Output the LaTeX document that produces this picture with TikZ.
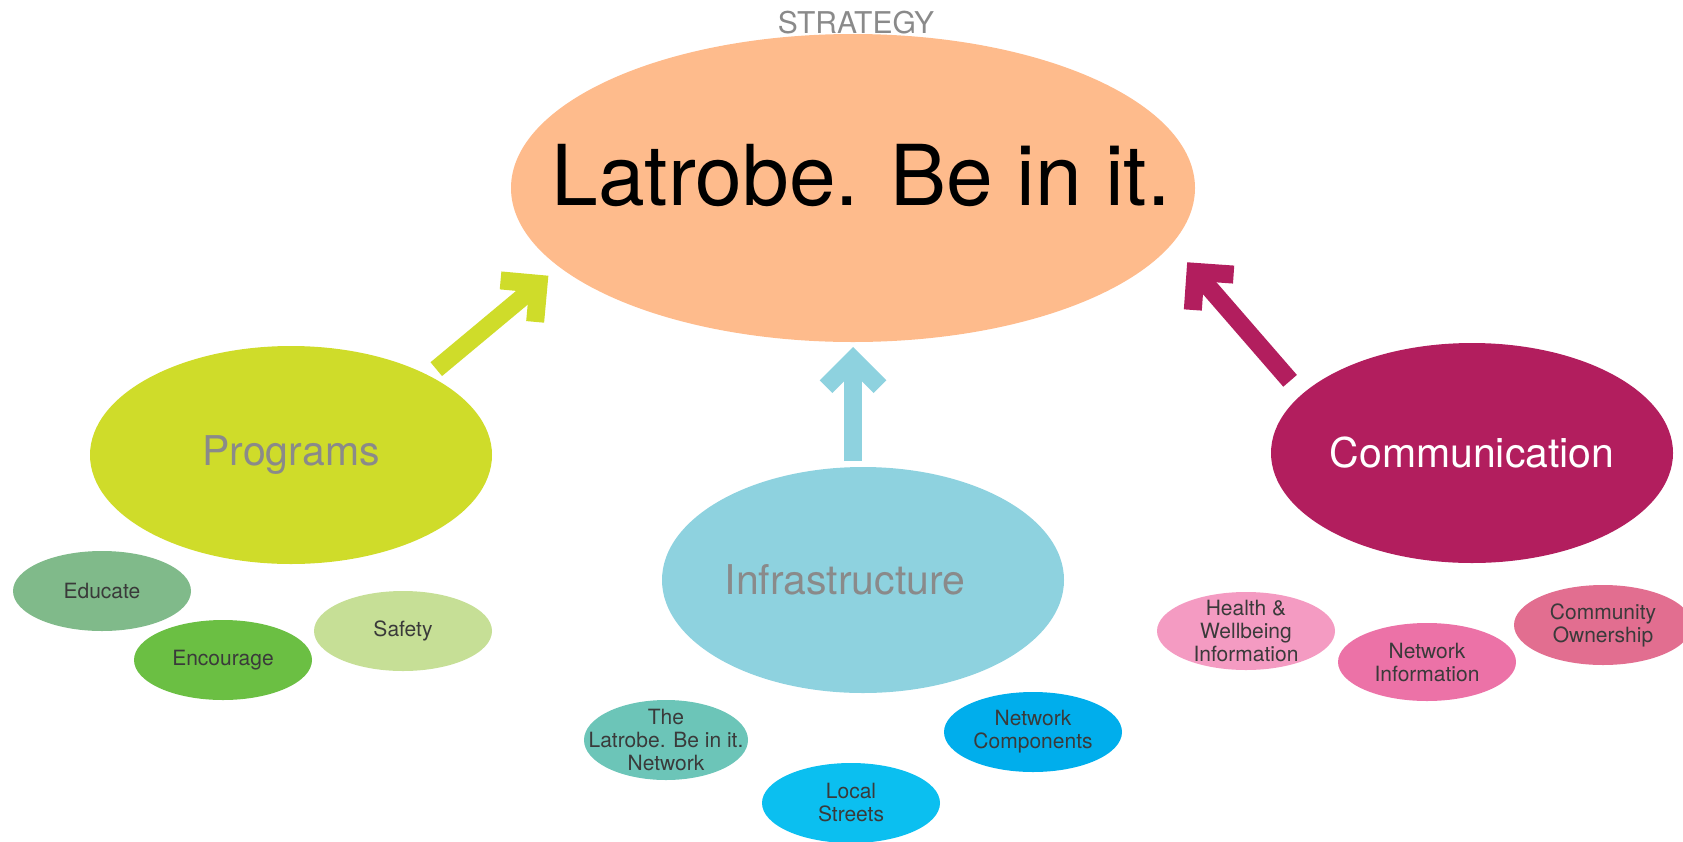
\documentclass[tikz,border=0pt]{standalone}
\usepackage{fontspec}
\setmainfont{TeX Gyre Heros}
\usetikzlibrary{shapes.geometric}
\usetikzlibrary{arrows.meta}

\definecolor{stratcol}{HTML}{FEBB8C}
\definecolor{progcol}{HTML}{CFDC2A}
\definecolor{infracol}{HTML}{8ED2DF}
\definecolor{commcol}{HTML}{B21E5E}
\definecolor{educol}{HTML}{80BA8A}
\definecolor{enccol}{HTML}{6BBF43}
\definecolor{safecol}{HTML}{C6DF96}
\definecolor{netcol}{HTML}{6CC5B8}
\definecolor{streetcol}{HTML}{0BBFF0}
\definecolor{compcol}{HTML}{00AEEC}
\definecolor{healthcol}{HTML}{F49BC2}
\definecolor{infocol}{HTML}{EC72A7}
\definecolor{owncol}{HTML}{E26E90}
\definecolor{softgray}{HTML}{8A8A8A}
\definecolor{darkgray}{HTML}{3A3A3A}

\tikzset{
	bubble/.style={ellipse, inner sep=0pt, outer sep=0pt},
	leaf/.style={bubble, minimum width=178, minimum height=80},
	bigtext/.style={font=\fontsize{84}{100}\selectfont, text=black},
	midtext/.style={font=\fontsize{41}{48}\selectfont, text=softgray},
	smalltext/.style={font=\fontsize{21}{23}\selectfont, text=darkgray, align=center},
	chevron/.style={line width=18pt, -{Straight Barb[length=27pt, width=54pt]}}
}

\begin{document}
\begin{tikzpicture}[x=1pt, y=-1pt]
	\useasboundingbox (0,0) rectangle (1683,841);

	% strategy
	\node[font=\fontsize{30}{36}\selectfont, text=softgray] (title) at (856,23) {STRATEGY};
	\node[bubble, fill=stratcol, minimum width=684, minimum height=308,
	label={[bigtext, xshift=8, yshift=12]center:Latrobe. Be in it.}] (strat) at (853,188) {};

	% the three streams
	\node[bubble, fill=progcol, minimum width=402, minimum height=218,
	label={[midtext]center:Programs}] (progs) at (291,455) {};
	\node[bubble, fill=infracol, minimum width=402, minimum height=226,
	label={[midtext, xshift=-18]center:Infrastructure}] (infra) at (863,580) {};
	\node[bubble, fill=commcol, minimum width=402, minimum height=220,
	label={[midtext, text=white]center:Communication}] (comm) at (1472,453) {};

	\draw[chevron, draw=progcol, shorten <=10pt, shorten >=14pt] (progs.30) -- (strat.195);
	\draw[chevron, draw=infracol, shorten <=6pt, shorten >=5pt] (strat.south |- infra.north) -- (strat.south);
	\draw[chevron, draw=commcol, shorten <=18pt, shorten >=24pt] (comm.161) -- (strat.-10);

	% programs
	\node[leaf, fill=educol, label={[smalltext]center:Educate}] (educate) at (102,591) {};
	\node[leaf, fill=enccol, label={[smalltext]center:Encourage}] (encourage) at (223,660) {};
	\node[leaf, fill=safecol, label={[smalltext]center:Safety}] (safety) at (403,631) {};

	% infrastructure
	\node[leaf, fill=netcol, minimum width=164,
	label={[smalltext]center:{The\\Latrobe. Be in it.\\Network}}] (network) at (666,740) {};
	\node[leaf, fill=streetcol, label={[smalltext]center:{Local\\Streets}}] (streets) at (851,803) {};
	\node[leaf, fill=compcol, label={[smalltext]center:{Network\\Components}}] (components) at (1033,732) {};

	% communication
	\node[leaf, fill=healthcol, minimum height=78,
	label={[smalltext]center:{Health \&\\Wellbeing\\Information}}] (health) at (1246,631) {};
	\node[leaf, fill=infocol, minimum height=78,
	label={[smalltext]center:{Network\\Information}}] (netinfo) at (1427,662) {};
	\node[leaf, fill=owncol, label={[smalltext]center:{Community\\Ownership}}] (ownership) at (1603,625) {};
\end{tikzpicture}
\end{document}
